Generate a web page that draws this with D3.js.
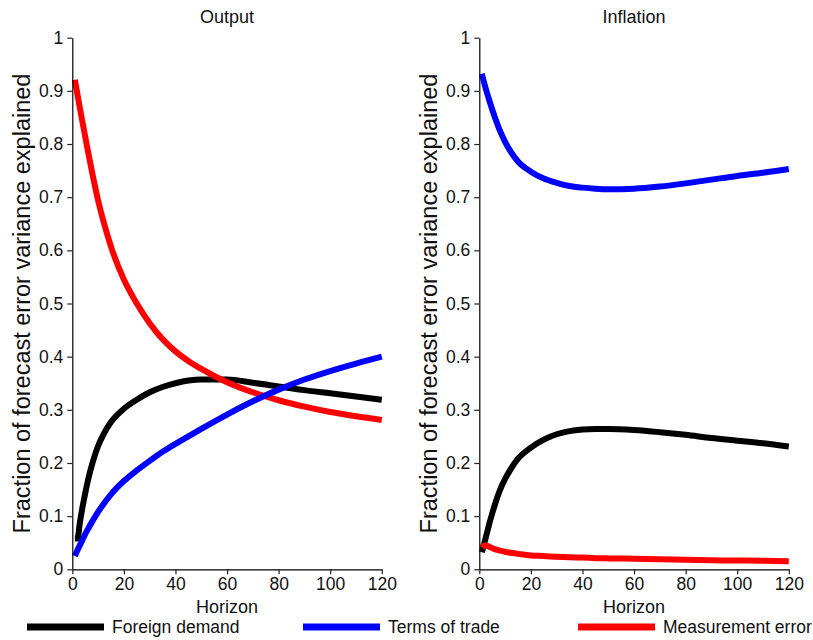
<!DOCTYPE html>
<html>
<head>
<meta charset="utf-8">
<script src="https://cdn.jsdelivr.net/npm/d3@7"></script>
<style>
  body { margin: 0; background: #fff; }
  svg { display: block; font-family: "Liberation Sans", Arial, sans-serif; }
</style>
</head>
<body>
<svg id="chart" width="813" height="640"></svg>
<script>
var horizons = [1, 2, 3, 4, 5, 6, 8, 10, 12, 15, 20, 25, 30, 35, 40, 45, 50, 60, 70, 80, 90, 100, 110, 120];

// Output panel
var outputForeign = [0.058, 0.058, 0.09, 0.118, 0.143, 0.166, 0.203, 0.232, 0.253, 0.277, 0.302, 0.319, 0.333, 0.343, 0.35, 0.355, 0.357, 0.357, 0.351, 0.344, 0.337, 0.331, 0.325, 0.319];
var outputTerms = [0.025, 0.036, 0.046, 0.056, 0.066, 0.075, 0.092, 0.108, 0.122, 0.141, 0.166, 0.186, 0.204, 0.221, 0.236, 0.25, 0.264, 0.291, 0.316, 0.338, 0.357, 0.373, 0.387, 0.4];
var outputMeasure = [0.921, 0.893, 0.866, 0.84, 0.814, 0.788, 0.739, 0.694, 0.656, 0.607, 0.545, 0.5, 0.463, 0.433, 0.41, 0.392, 0.377, 0.352, 0.333, 0.318, 0.306, 0.296, 0.288, 0.281];

// Inflation panel
var inflationForeign = [0.032, 0.05, 0.069, 0.088, 0.105, 0.121, 0.149, 0.17, 0.187, 0.208, 0.229, 0.244, 0.254, 0.26, 0.263, 0.264, 0.264, 0.262, 0.258, 0.253, 0.247, 0.242, 0.237, 0.231];
var inflationTerms = [0.932, 0.913, 0.896, 0.88, 0.865, 0.851, 0.825, 0.804, 0.787, 0.767, 0.748, 0.735, 0.727, 0.721, 0.718, 0.716, 0.715, 0.716, 0.72, 0.726, 0.733, 0.74, 0.746, 0.753];
var inflationMeasure = [0.041, 0.045, 0.044, 0.042, 0.04, 0.038, 0.035, 0.033, 0.031, 0.029, 0.026, 0.025, 0.0235, 0.0225, 0.022, 0.021, 0.0205, 0.02, 0.019, 0.018, 0.017, 0.0165, 0.016, 0.015];

var panelTitles = ["Output", "Inflation"];
var seriesNames = ["Foreign demand", "Terms of trade", "Measurement error"];
var seriesColors = ["#000000", "#0000ff", "#ff0000"];
var xTicks = [0, 20, 40, 60, 80, 100, 120];
var yTicks = [0, 0.1, 0.2, 0.3, 0.4, 0.5, 0.6, 0.7, 0.8, 0.9, 1];

(function(d3) {
  var panels = [
    {title: panelTitles[0], left: 72.3, series: [outputForeign, outputTerms, outputMeasure]},
    {title: panelTitles[1], left: 479.3, series: [inflationForeign, inflationTerms, inflationMeasure]}
  ];

  var svg = d3.select("#chart");
  var plotWidth = 309.5;
  var plotTop = 37.7, plotBottom = 569.3;
  // black first, then red, blue on top (as in the figure)
  var drawOrder = [0, 2, 1];
  var fmt = function(d) { return d3.format(".1~f")(d); };

  panels.forEach(function(p) {
    var x = d3.scaleLinear().domain([0, 120]).range([p.left, p.left + plotWidth]);
    var y = d3.scaleLinear().domain([0, 1]).range([plotBottom, plotTop]);

    var g = svg.append("g");

    var line = d3.line()
        .x(function(d) { return x(d.h); })
        .y(function(d) { return y(d.v); })
        .curve(d3.curveMonotoneX);

    drawOrder.forEach(function(k) {
      var pts = horizons.map(function(h, i) { return {h: h, v: p.series[k][i]}; });
      g.append("path")
        .datum(pts)
        .attr("fill", "none")
        .attr("stroke", seriesColors[k])
        .attr("stroke-width", 6)
        .attr("d", line);
    });

    var xAxis = g.append("g")
        .attr("transform", "translate(0," + plotBottom + ")")
        .call(d3.axisBottom(x).tickValues(xTicks).tickSize(5).tickPadding(3).tickSizeOuter(0));
    var yAxis = g.append("g")
        .attr("transform", "translate(" + p.left + ",0)")
        .call(d3.axisLeft(y).tickValues(yTicks).tickFormat(fmt).tickSize(5).tickPadding(4).tickSizeOuter(0));

    [xAxis, yAxis].forEach(function(a) {
      a.select(".domain").attr("stroke", "#000").attr("stroke-width", 1.2);
      a.selectAll(".tick line").attr("stroke", "#222").attr("stroke-width", 1.2);
      a.selectAll(".tick text")
        .attr("fill", "#111")
        .style("font-size", "17.5px")
        .style("font-family", "'Liberation Sans', Arial, sans-serif");
    });

    g.append("text")
      .attr("x", p.left + plotWidth / 2)
      .attr("y", 23)
      .attr("text-anchor", "middle")
      .attr("fill", "#111")
      .style("font-size", "18px")
      .text(p.title);

    g.append("text")
      .attr("x", p.left + plotWidth / 2)
      .attr("y", 613)
      .attr("text-anchor", "middle")
      .attr("fill", "#111")
      .style("font-size", "18px")
      .text("Horizon");

    g.append("text")
      .attr("transform", "translate(" + (p.left - 42.5) + "," + ((plotTop + plotBottom) / 2) + ") rotate(-90)")
      .attr("text-anchor", "middle")
      .attr("fill", "#111")
      .style("font-size", "23.5px")
      .text("Fraction of forecast error variance explained");
  });

  // legend along the bottom
  var legendX = [27, 303, 578];
  var legend = svg.append("g")
    .selectAll("g")
    .data(seriesNames)
    .enter().append("g")
      .attr("transform", function(d, i) { return "translate(" + legendX[i] + ",627)"; });

  legend.append("line")
    .attr("x1", 0).attr("x2", 77)
    .attr("stroke", function(d, i) { return seriesColors[i]; })
    .attr("stroke-width", 7);

  legend.append("text")
    .attr("x", 85)
    .attr("y", 6)
    .attr("fill", "#111")
    .style("font-size", "17.5px")
    .text(function(d) { return d; });
}(d3));
</script>
</body>
</html>
